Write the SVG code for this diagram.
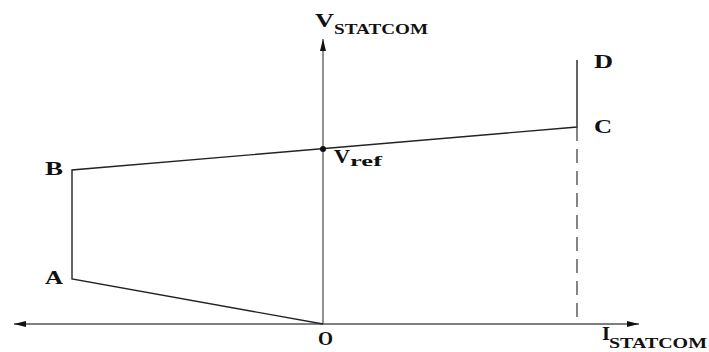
<svg xmlns="http://www.w3.org/2000/svg" width="709" height="352" viewBox="0 0 709 352">
<style>
.ax{stroke:#555;stroke-width:1.3;fill:none}
.ln{stroke:#222;stroke-width:1.4;fill:none}
text{font-family:"Liberation Serif","Times New Roman",serif;font-weight:bold;fill:#111}
.lb{font-size:18px}
.sb{font-size:15px}
</style>
<defs>
<marker id="ah" viewBox="0 0 12 8" refX="12" refY="4" markerWidth="12" markerHeight="8" markerUnits="userSpaceOnUse" orient="auto-start-reverse">
<path d="M0,1 L12,4 L0,7 Z" fill="#111"/>
</marker>
</defs>
<rect width="709" height="352" fill="#fff"/>
<g id="connectors">
<line class="ax" x1="14" y1="324" x2="639" y2="324" marker-start="url(#ah)" marker-end="url(#ah)"/>
<line class="ax" x1="323" y1="324" x2="323" y2="39" marker-end="url(#ah)"/>
<polyline class="ln" points="323,324 72,279 72,170 577,127 577,60"/>
<line x1="577" y1="127" x2="577" y2="324" stroke="#444" stroke-width="1.3" stroke-dasharray="14,8"/>
</g>
<g id="vref"><circle cx="323" cy="149" r="3" fill="#111"/>
<text class="lb" font-size="17" x="334" y="163" textLength="16" lengthAdjust="spacingAndGlyphs">V</text>
<text font-size="14" x="350" y="166" textLength="32" lengthAdjust="spacingAndGlyphs">ref</text></g>
<g id="A"><text class="lb" x="45" y="284" textLength="18" lengthAdjust="spacingAndGlyphs">A</text></g>
<g id="B"><text class="lb" x="45" y="175" textLength="18" lengthAdjust="spacingAndGlyphs">B</text></g>
<g id="C"><text class="lb" x="594" y="133" textLength="18" lengthAdjust="spacingAndGlyphs">C</text></g>
<g id="D"><text class="lb" x="594" y="68" textLength="19" lengthAdjust="spacingAndGlyphs">D</text></g>
<g id="O"><text class="lb" x="318" y="345" textLength="15" lengthAdjust="spacingAndGlyphs">O</text></g>
<g id="vaxis"><text class="lb" x="315" y="27" textLength="19" lengthAdjust="spacingAndGlyphs">V</text>
<text class="sb" x="334" y="34" textLength="94" lengthAdjust="spacingAndGlyphs">STATCOM</text></g>
<g id="iaxis"><text class="lb" x="602" y="340" textLength="8" lengthAdjust="spacingAndGlyphs">I</text>
<text class="sb" x="609" y="348" textLength="98" lengthAdjust="spacingAndGlyphs">STATCOM</text></g>
</svg>
